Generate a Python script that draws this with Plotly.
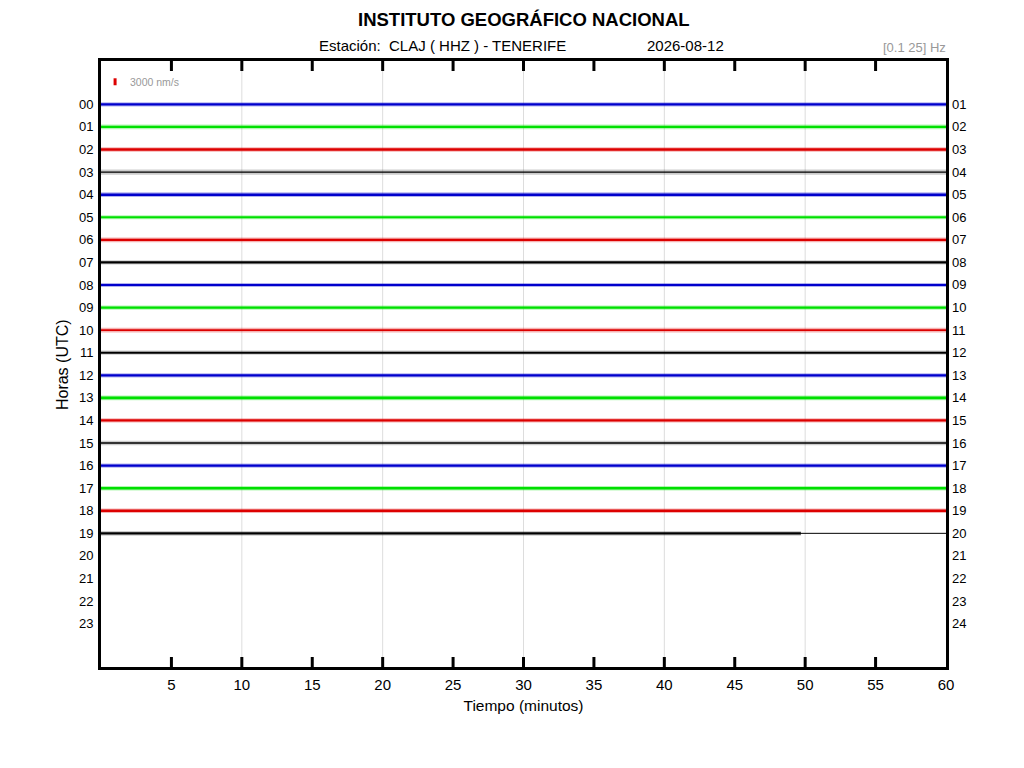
import plotly.graph_objects as go

# hourly helicorder rows (one row = one hour, 0..60 minutes)
hours = list(range(20))
left_labels = ["%02d" % h for h in range(24)]
right_labels = ["%02d" % (h + 1) for h in range(24)]
end_minute = [60] * 19 + [49.7]
# estimated noise level per row (nm/s): typical half-width and peak half-width
core_nm = [450, 500, 500, 300, 550, 450, 500, 450, 400, 500,
           400, 450, 500, 550, 500, 350, 500, 550, 500, 500]
peak_nm = [900, 1000, 1000, 1100, 1000, 900, 1000, 900, 900, 900,
           1000, 900, 900, 1000, 900, 1000, 900, 950, 1000, 1000]
x_ticks = [5, 10, 15, 20, 25, 30, 35, 40, 45, 50, 55, 60]
x_grid = [10, 20, 30, 40, 50]
scale_nm = 3000

NM_PER_ROW = 9700
COLORS = ["#0000cc", "#00e000", "#dd0000", "#000000"]
FAINT = ["rgba(0,0,204,0.3)", "rgba(0,224,0,0.3)", "rgba(221,0,0,0.3)", "rgba(0,0,0,0.2)"]
FONT = "Liberation Sans, Arial, sans-serif"
TICK_LEN = 10 / 606  # inner tick length as a fraction of the plot height

fig = go.Figure()

for h in hours:
    end = end_minute[h]
    for amp, col in ((peak_nm[h], FAINT[h % 4]), (core_nm[h], COLORS[h % 4])):
        a = amp / NM_PER_ROW
        fig.add_trace(go.Scatter(
            x=[0, end, end, 0, 0],
            y=[h - a, h - a, h + a, h + a, h - a],
            mode="lines", fill="toself", fillcolor=col,
            line=dict(width=0), hoverinfo="skip", showlegend=False))
    if end < 60:
        # flat baseline for the part of the hour with no data yet
        fig.add_trace(go.Scatter(x=[end, 60], y=[h, h], mode="lines",
                                 line=dict(color="black", width=1),
                                 hoverinfo="skip", showlegend=False))

# amplitude scale bar
half = scale_nm / NM_PER_ROW / 2
fig.add_trace(go.Scatter(x=[1, 1], y=[-1 - half, -1 + half], mode="lines",
                         line=dict(color="#dd0000", width=3),
                         hoverinfo="skip", showlegend=False))
fig.add_annotation(x=1.9, y=-1, text="%d nm/s" % scale_nm, showarrow=False,
                   xanchor="left", font=dict(size=10.5, color="#999999"))

# light vertical grid every 10 minutes, behind the traces
for g in x_grid:
    fig.add_vline(x=g, line=dict(color="#dddddd", width=1), layer="below")

# inward tick marks on the top and bottom frame
for t in x_ticks[:-1]:
    for y0, y1 in ((0, TICK_LEN), (1 - TICK_LEN, 1)):
        fig.add_shape(type="line", xref="x", yref="paper", x0=t, x1=t,
                      y0=y0, y1=y1, line=dict(color="black", width=3),
                      layer="above")

# hour labels on the right side (end of each row)
for i, lab in enumerate(right_labels):
    fig.add_annotation(xref="paper", yref="y", x=1.0, y=i, xshift=4,
                       xanchor="left", yanchor="middle", text=lab,
                       showarrow=False, font=dict(size=13))

y_range = [24.92, -1.92]

fig.update_layout(
    width=1008, height=752,
    margin=dict(l=93, r=70, t=53, b=93),
    plot_bgcolor="white", paper_bgcolor="white",
    font=dict(family=FONT, color="black", size=13),
    xaxis=dict(range=[0, 60], tickmode="array", tickvals=x_ticks, ticks="",
               showgrid=False, zeroline=False,
               showline=True, linewidth=3, linecolor="black", mirror=True,
               tickfont=dict(size=15), ticklabelstandoff=2,
               title=dict(text="Tiempo (minutos)", font=dict(size=15.5), standoff=9)),
    yaxis=dict(range=y_range, tickvals=list(range(24)), ticktext=left_labels,
               ticks="", showgrid=False, zeroline=False, showline=True,
               linewidth=3, linecolor="black", mirror=True, tickfont=dict(size=13),
               ticklabelstandoff=2),
)

fig.add_annotation(xref="paper", yref="paper", x=-0.0456, y=0.499,
                   xanchor="center", yanchor="middle",
                   text="Horas (UTC)", textangle=-90, showarrow=False,
                   font=dict(size=16))
fig.add_annotation(xref="paper", yref="paper", x=0.5, y=1.0685,
                   xanchor="center", yanchor="middle",
                   text="<b>INSTITUTO GEOGRÁFICO NACIONAL</b>",
                   showarrow=False, font=dict(size=18.5))
fig.add_annotation(xref="paper", yref="paper", x=0.2562, y=1.0256,
                   xanchor="left", yanchor="middle",
                   text="Estación:&nbsp; CLAJ ( HHZ ) - TENERIFE", showarrow=False,
                   font=dict(size=15))
fig.add_annotation(xref="paper", yref="paper", x=0.6432, y=1.0256,
                   xanchor="left", yanchor="middle", text="2026-08-12",
                   showarrow=False, font=dict(size=15))
fig.add_annotation(xref="paper", yref="paper", x=1.0018, y=1.0223,
                   xanchor="right", yanchor="middle", text="[0.1 25] Hz",
                   showarrow=False, font=dict(size=13, color="#999999"))

fig.write_html("out.html")
